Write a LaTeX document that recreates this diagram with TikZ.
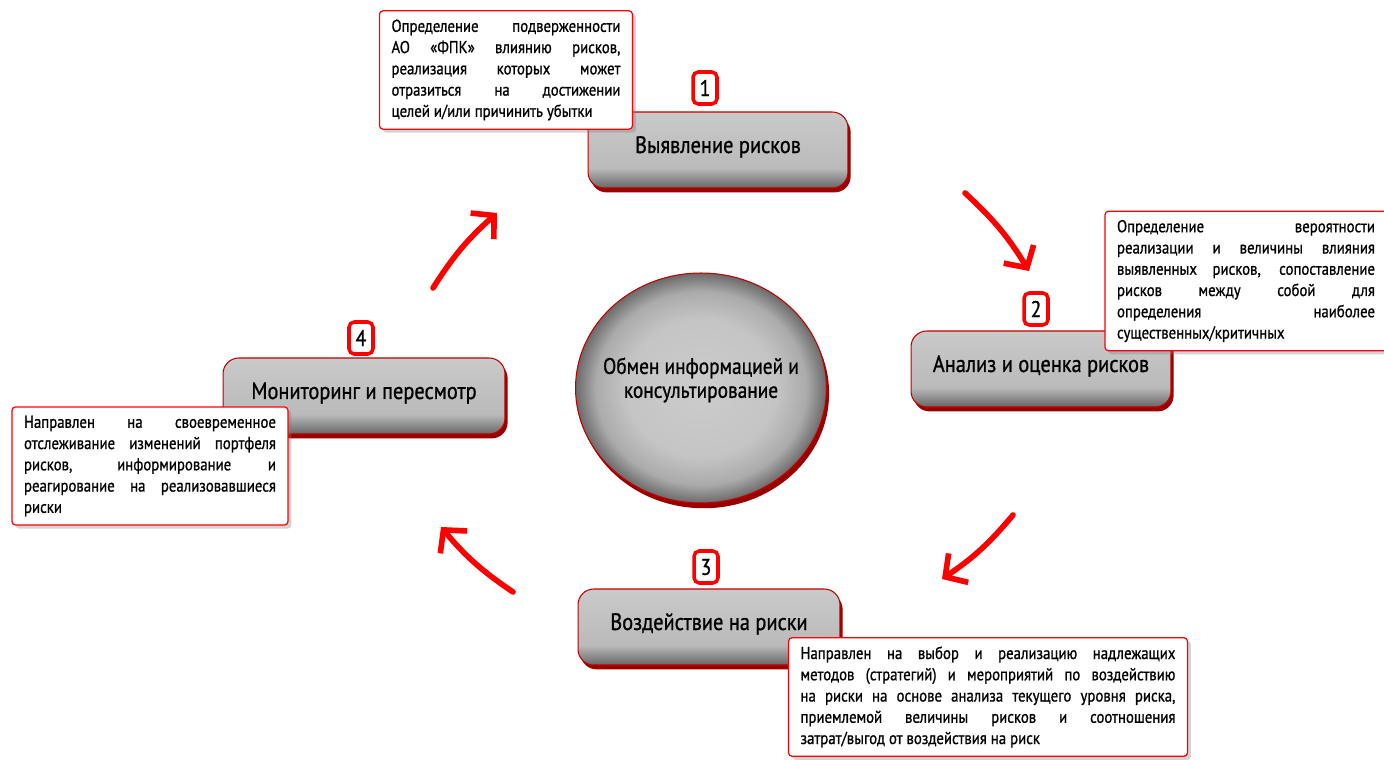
\documentclass[tikz,border=0pt]{standalone}
\usepackage{fontspec}
\setmainfont{PT Sans}[FakeStretch=0.86, FakeBold=0.9]
\usetikzlibrary{arrows.meta, positioning, shadows, shapes.geometric, calc}
\definecolor{cred}{HTML}{FF0000}
\definecolor{crim}{HTML}{C00000}
\definecolor{cshadow}{HTML}{9A0000}
% 3d faces of the boxes and of the centre disc
\pgfdeclareverticalshading{faceshade}{100bp}{color(0bp)=(black!60); color(25bp)=(black!60);
  color(32bp)=(black!42); color(38bp)=(black!27); color(75bp)=(black!21); color(100bp)=(black!21)}
\pgfdeclareradialshading{discshade}{\pgfpoint{0bp}{0bp}}{color(0bp)=(black!20); color(15bp)=(black!23);
  color(21bp)=(black!33); color(25bp)=(black!58); color(50bp)=(black!58)}
\tikzset{
  every picture/.style={line width=1pt},
  stage/.style={rounded corners=9pt, draw=crim, line width=0.6pt, shading=faceshade,
    minimum width=#1, minimum height=1.52cm, text height=0.3cm, text depth=0.18cm,
    font=\fontsize{13.5}{16}\selectfont,
    drop shadow={shadow xshift=1.5pt, shadow yshift=-2.5pt, fill=cshadow, opacity=1}},
  stage/.default=5.2cm,
  hub/.style={ellipse, draw=crim, line width=0.6pt, shading=discshade, minimum width=5.02cm,
    minimum height=4.6cm, inner sep=0pt,
    drop shadow={shadow xshift=1.5pt, shadow yshift=-3pt, fill=cshadow, opacity=1}},
  hubtext/.style={align=center, font=\fontsize{12.8}{13.6}\selectfont},
  note/.style={draw=cred, fill=white, rounded corners=2pt, line width=0.7pt, text width=#1,
    align=justify, inner xsep=0.24cm, inner ysep=5pt, font=\fontsize{9.8}{12.1}\selectfont,
    execute at begin node={\hyphenpenalty=10000\relax\exhyphenpenalty=10000\relax},
    drop shadow={shadow xshift=2pt, shadow yshift=-2pt, opacity=0.35}},
  num/.style={draw=cred, fill=white, rounded corners=3pt, line width=2pt, minimum width=0.48cm,
    minimum height=0.64cm, inner sep=1pt, font=\fontsize{13}{15}\selectfont},
  arrow/.style={-{Straight Barb[length=3.2mm, width=7mm]}, draw=cred, line width=3.2pt, line cap=round},
}

\begin{document}
\begin{tikzpicture}[x=0.02cm, y=-0.02cm]
  \useasboundingbox (0,0) rectangle (1384,760);
  % stages of the cycle
  \node[stage] (ident) at (718,150) {Выявление рисков};
  \node[stage] (assess) at (1041,369) {Анализ и оценка рисков};
  \node[stage=5.24cm] (treat) at (709,627) {Воздействие на риски};
  \node[stage=5.64cm] (monit) at (364,396) {Мониторинг и пересмотр};
  % centre
  \node[hub] (hub) at (701,388) {};
  \node[hubtext] (hubtext) at ([yshift=0.16cm]hub.center) {Обмен информацией и\\консультирование};
  % explanations
  \node[note=4.58cm] (tident) at (506,70) {Определение подверженности\linebreak
    АО «ФПК» влиянию рисков,\linebreak реализация которых может\linebreak
    отразиться на достижении\linebreak целей и/или причинить убытки};
  \node[note=5.16cm] (tassess) at (1246,281) {Определение вероятности\linebreak
    реализации и величины влияния\linebreak выявленных рисков, сопоставление\linebreak
    рисков между собой для\linebreak определения наиболее\linebreak существенных/критичных};
  \node[note=7.5cm] (ttreat) at (988,697) {Направлен на выбор и реализацию надлежащих\linebreak
    методов (стратегий) и мероприятий по воздействию\linebreak
    на риски на основе анализа текущего уровня риска,\linebreak
    приемлемой величины рисков и соотношения\linebreak затрат/выгод от воздействия на риск};
  \node[note=5.04cm] (tmonit) at (150,466) {Направлен на своевременное\linebreak
    отслеживание изменений портфеля\linebreak рисков, информирование и\linebreak
    реагирование на реализовавшиеся\linebreak риски};
  % step numbers
  \foreach \n/\px/\py in {1/705/88, 2/1036/309, 3/706/567, 4/361/338}
    \node[num] (n\n) at (\px,\py) {\n};
  % arrows between the stages
  \coordinate (a1s) at (433,288); \coordinate (a1e) at (497,213);
  \coordinate (a2s) at (965,193); \coordinate (a2e) at (1029,271);
  \coordinate (a3s) at (1013,515); \coordinate (a3e) at (942,579);
  \coordinate (a4s) at (513,592); \coordinate (a4e) at (441,527);
  \foreach \s/\e in {a1s/a1e, a2s/a2e, a3s/a3e, a4s/a4e}
    \draw[arrow] (\s) to[bend left=8] (\e);
\end{tikzpicture}
\end{document}
